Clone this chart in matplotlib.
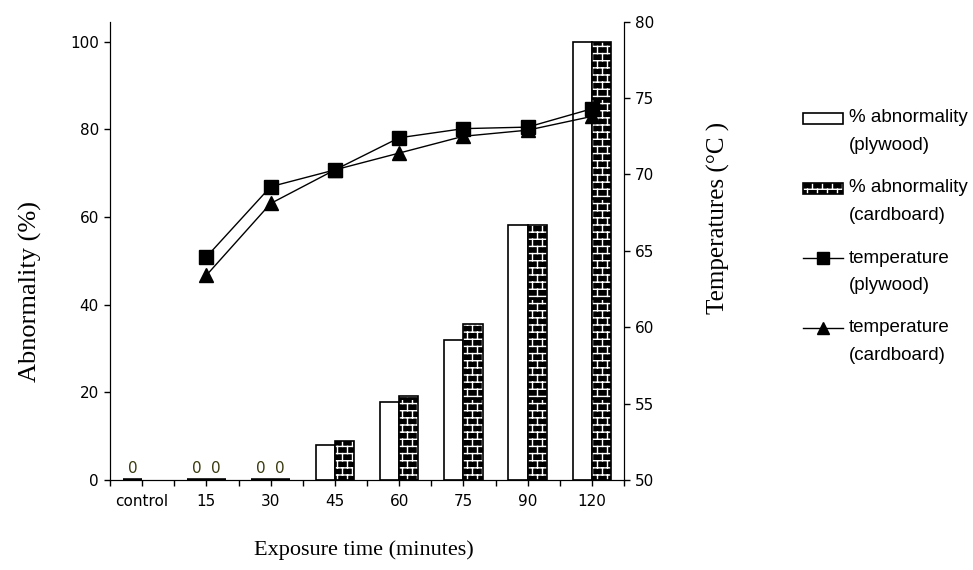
import warnings
import numpy as np
import matplotlib
matplotlib.use("Agg")
import matplotlib.pyplot as plt
from matplotlib import hatch as mhatch
from matplotlib.path import Path
from matplotlib.patches import Rectangle
from matplotlib.lines import Line2D

warnings.filterwarnings("ignore")

# data
categories = ['control', '15', '30', '45', '60', '75', '90', '120']
abn_plywood = [0, 0, 0, 8.0, 17.7, 32.0, 58.3, 100]
abn_cardboard = [np.nan, 0, 0, 8.9, 19.1, 35.7, 58.3, 100]
temp_plywood = [np.nan, 64.6, 69.2, 70.3, 72.4, 73.0, 73.1, 74.3]
temp_cardboard = [np.nan, 63.4, 68.1, 70.3, 71.4, 72.5, 72.9, 73.8]


# brick hatch for the cardboard bars ('b' in the hatch string)
class BrickHatch(mhatch.HatchPatternBase):
    rows = 14
    cols = 10

    def __init__(self, hatch, density):
        if 'b' in hatch:
            self.num_vertices = 2 * self.rows * (self.cols + 1)
        else:
            self.num_vertices = 0

    def set_vertices_and_codes(self, vertices, codes):
        segs = []
        h = 1.0 / self.rows
        for i in range(self.rows):
            y0 = (i + 0.5) * h
            segs.append(((0, y0), (1, y0)))
            shift = 0.25 / self.cols if i % 2 else 0.75 / self.cols
            for k in range(self.cols):
                x = k / self.cols + shift
                segs.append(((x, y0), (x, y0 + h)))
        vertices[:] = np.array(segs).reshape(-1, 2)
        codes[0::2] = Path.MOVETO
        codes[1::2] = Path.LINETO


mhatch._hatch_types.append(BrickHatch)

W, H = 973, 570
fig = plt.figure(figsize=(W / 100, H / 100), dpi=100)
ax = fig.add_axes([110 / W, 1 - 480 / H, (624 - 110) / W, (480 - 21.7) / H])
ax2 = ax.twinx()

x = np.arange(len(categories))
bw = 0.3
ply = np.array(abn_plywood, dtype=float)
card = np.array(abn_cardboard, dtype=float)
# zero-height bars show up as a thick line on the axis
lw_ply = np.where(ply == 0, 2.6, 1.2)
lw_card = np.where(card == 0, 2.6, 1.2)

ax.bar(x - bw / 2, ply, bw, facecolor='white', edgecolor='black', linewidth=lw_ply)
ax.bar(x + bw / 2, card, bw, facecolor='black', edgecolor='white',
       linewidth=0, hatch='b')
ax.bar(x + bw / 2, card, bw, fill=False, edgecolor='black', linewidth=lw_card)

for xs, vals in ((x - bw / 2, ply), (x + bw / 2, card)):
    for xi, v in zip(xs, vals):
        if v == 0:
            ax.annotate('0', (xi, 0), xytext=(0, 3), textcoords='offset points',
                        ha='center', va='bottom', fontsize=11,
                        family='DejaVu Sans', color='#3a3a10')

ax2.plot(x, temp_plywood, color='black', lw=1, marker='s', markersize=9.5)
ax2.plot(x, temp_cardboard, color='black', lw=1, marker='^', markersize=9.5)

ax.set_xlim(-0.5, len(categories) - 0.5)
ax.set_ylim(0, 104.6)
ax2.set_ylim(50, 80)
ax.set_yticks(range(0, 101, 20))
ax2.set_yticks(range(50, 81, 5))
ax.set_xticks(x)
ax.set_xticklabels(categories)
ax.set_xticks(np.arange(len(categories) + 1) - 0.5, minor=True)

for a in (ax, ax2):
    a.spines['top'].set_visible(False)
    a.tick_params(which='both', direction='out', length=4, width=1,
                  labelsize=11, colors='black')
    for lab in a.get_xticklabels() + a.get_yticklabels():
        lab.set_family('DejaVu Sans')
ax.tick_params(axis='x', pad=6)
ax.tick_params(axis='y', pad=4)
ax2.tick_params(axis='y', pad=4)

serif = 'Liberation Serif'
fig.text(30 / W, 1 - 292 / H, 'Abnormality (%)', rotation=90, ha='center',
         va='center', family=serif, fontsize=19)
fig.text(718 / W, 1 - 218 / H, 'Temperatures (°C )', rotation=90, ha='center',
         va='center', family=serif, fontsize=18)
fig.text(364 / W, 1 - 550 / H, 'Exposure time (minutes)', ha='center',
         va='center', family=serif, fontsize=16)

# legend drawn by hand so the handle sits on the first text line
leg_y = [118, 188, 258, 328]
labels = [('% abnormality', '(plywood)'), ('% abnormality', '(cardboard)'),
          ('temperature', '(plywood)'), ('temperature', '(cardboard)')]
hx0, hx1, tx = 803, 843, 849
lfont = dict(family='Liberation Sans', fontsize=13.5, ha='left', va='center')
for i, (y, (l1, l2)) in enumerate(zip(leg_y, labels)):
    if i == 0:
        fig.add_artist(Rectangle((hx0 / W, 1 - (y + 5.5) / H), (hx1 - hx0) / W,
                                 11 / H, transform=fig.transFigure,
                                 facecolor='white', edgecolor='black', lw=1.2))
    elif i == 1:
        fig.add_artist(Rectangle((hx0 / W, 1 - (y + 5.5) / H), (hx1 - hx0) / W,
                                 11 / H, transform=fig.transFigure,
                                 facecolor='black', edgecolor='white', lw=0,
                                 hatch='b'))
        fig.add_artist(Rectangle((hx0 / W, 1 - (y + 5.5) / H), (hx1 - hx0) / W,
                                 11 / H, transform=fig.transFigure,
                                 fill=False, edgecolor='black', lw=1.2))
    else:
        fig.add_artist(Line2D([hx0 / W, (hx0 + hx1) / 2 / W, hx1 / W],
                              [1 - y / H] * 3, transform=fig.transFigure,
                              color='black', lw=1,
                              marker='s' if i == 2 else '^', markersize=8,
                              markevery=[1]))
    fig.text(tx / W, 1 - y / H, l1, **lfont)
    fig.text(tx / W, 1 - (y + 27) / H, l2, **lfont)

fig.savefig('out.png', dpi=100)
